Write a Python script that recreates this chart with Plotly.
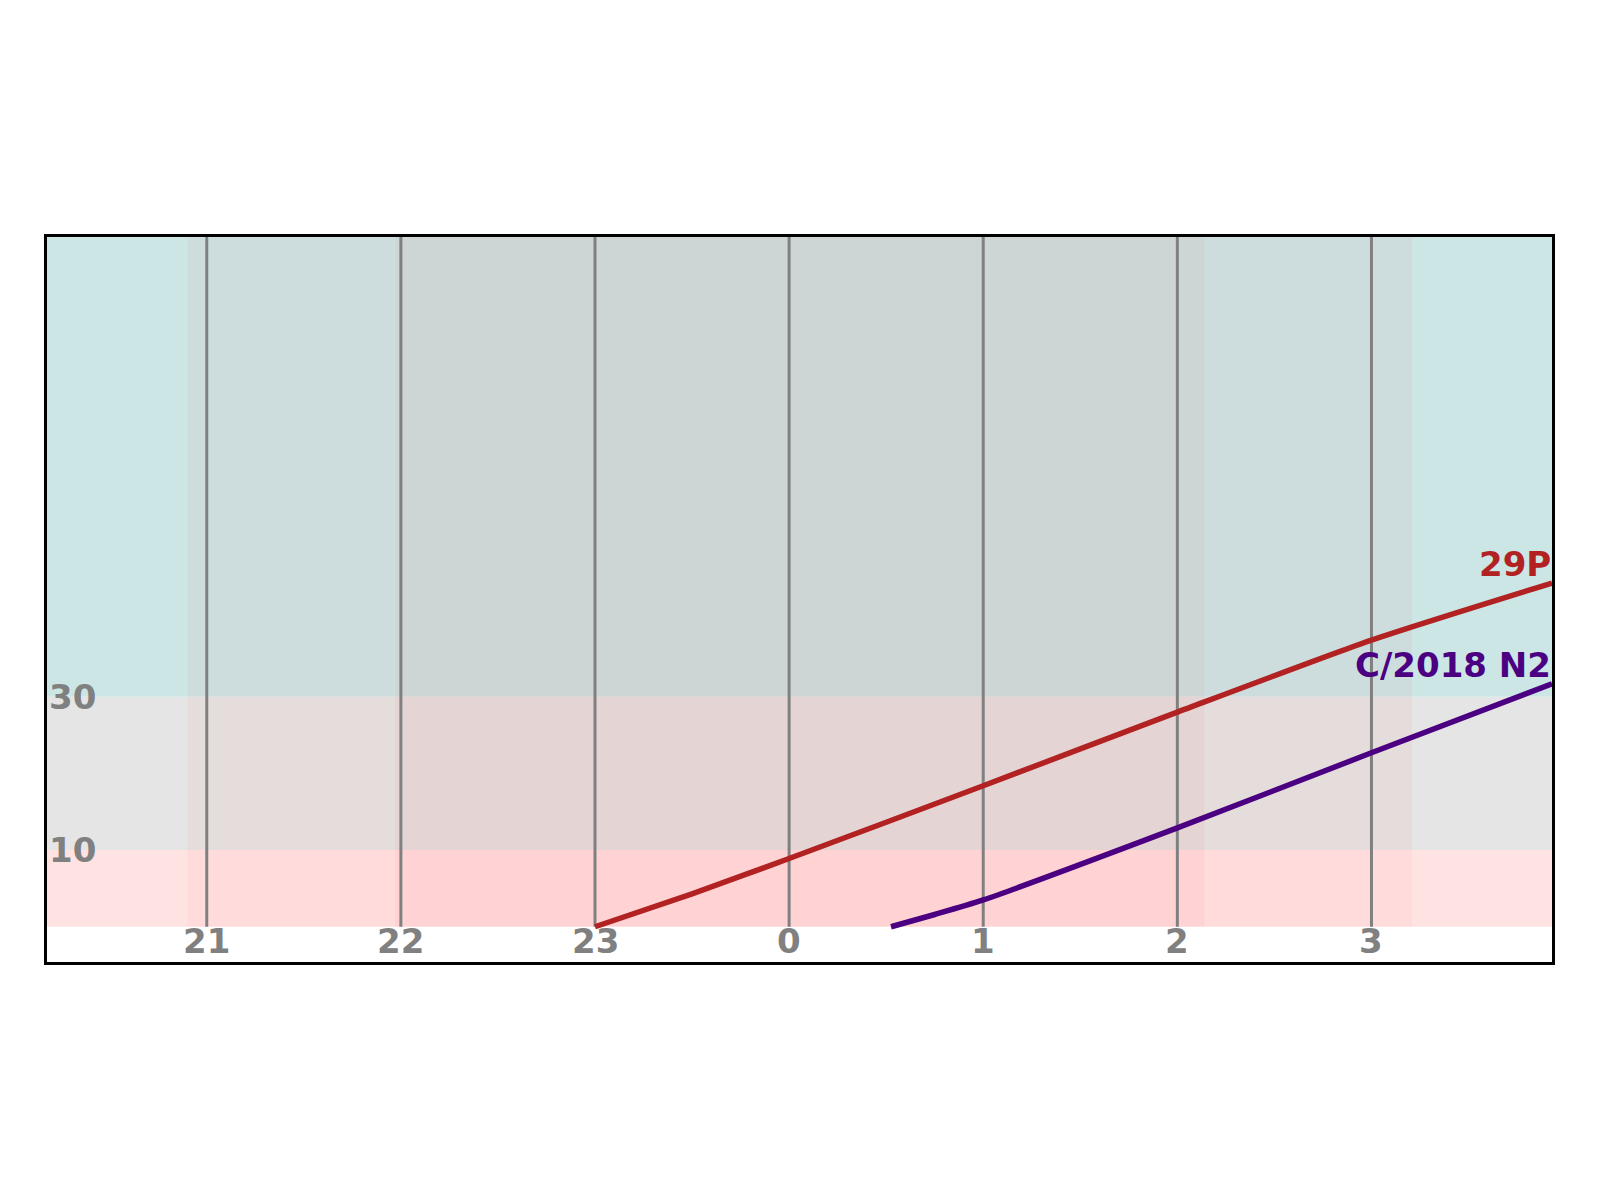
import plotly.graph_objects as go

# hour grid (x uses hours after noon-wrap: 0h -> 24)
hour_ticks = [21, 22, 23, 0, 1, 2, 3]
alt_levels = [10, 30]

# altitude bands (deg) and their colours
band_lo = [0, 10, 30]
band_hi = [10, 30, 90]
band_colors = ["#ffe3e3", "#e5e5e5", "#cce6e6"]

# twilight / night windows (hours, wrapped)
dark_start = [20.90, 21.97]
dark_end = [27.21, 26.14]

# comet altitude tracks
t_29p = [23.0, 23.5, 24.0, 25.0, 26.0, 27.0, 27.93]
alt_29p = [0.0, 4.3, 8.9, 18.4, 28.0, 37.4, 44.85]
t_n2 = [24.525, 24.75, 25.0, 26.0, 27.0, 27.93]
alt_n2 = [0.0, 1.6, 3.5, 12.9, 22.7, 31.7]

comets = ["29P", "C/2018 N2"]
colors = ["#b22222", "#4b0082"]

xmin, xmax = 20.177, 27.93
ymin, ymax = -4.6, 90

def wrap(h):
    return h + 24 if h < 12 else h

font = dict(family="DejaVu Sans", size=34, color="#808080", weight="bold")

fig = go.Figure()

shapes = []
for lo, hi, c in zip(band_lo, band_hi, band_colors):
    shapes.append(dict(type="rect", xref="paper", yref="y", x0=0, x1=1, y0=lo, y1=hi,
                       fillcolor=c, line_width=0, layer="below"))
for s, e in zip(dark_start, dark_end):
    shapes.append(dict(type="rect", xref="x", yref="y", x0=s, x1=e, y0=0, y1=90,
                       fillcolor="rgba(255,0,0,0.035)", line_width=0, layer="below"))
for h in hour_ticks:
    shapes.append(dict(type="line", xref="x", yref="y", x0=wrap(h), x1=wrap(h), y0=0, y1=90,
                       line=dict(color="#808080", width=3), layer="below"))

for name, t, a, c in zip(comets, [t_29p, t_n2], [alt_29p, alt_n2], colors):
    fig.add_trace(go.Scatter(x=t, y=a, mode="lines", name=name,
                             line=dict(color=c, width=5.5, shape="spline", smoothing=0.6),
                             showlegend=False))
    fig.add_annotation(x=t[-1], y=a[-1], text=name, showarrow=False,
                       xanchor="right", yanchor="bottom", yshift=-3, xshift=1,
                       font=dict(family="DejaVu Sans", size=34, color=c, weight="bold"))

for h in hour_ticks:
    fig.add_annotation(x=wrap(h), y=-1.9, text=str(h), showarrow=False,
                       xanchor="center", yanchor="middle", font=font)
for lv in alt_levels:
    fig.add_annotation(x=xmin, y=lv, text=str(lv), showarrow=False,
                       xanchor="left", yanchor="middle", font=font)

fig.update_layout(
    width=1600, height=1200,
    margin=dict(l=39, r=56, t=229, b=246),
    paper_bgcolor="white", plot_bgcolor="white",
    shapes=shapes,
    xaxis=dict(range=[xmin, xmax], showgrid=False, zeroline=False, showticklabels=False,
               ticks="", showline=True, mirror=True, linecolor="black", linewidth=2.5),
    yaxis=dict(range=[ymin, ymax], showgrid=False, zeroline=False, showticklabels=False,
               ticks="", showline=True, mirror=True, linecolor="black", linewidth=2.5),
)

fig.write_html("out.html")
